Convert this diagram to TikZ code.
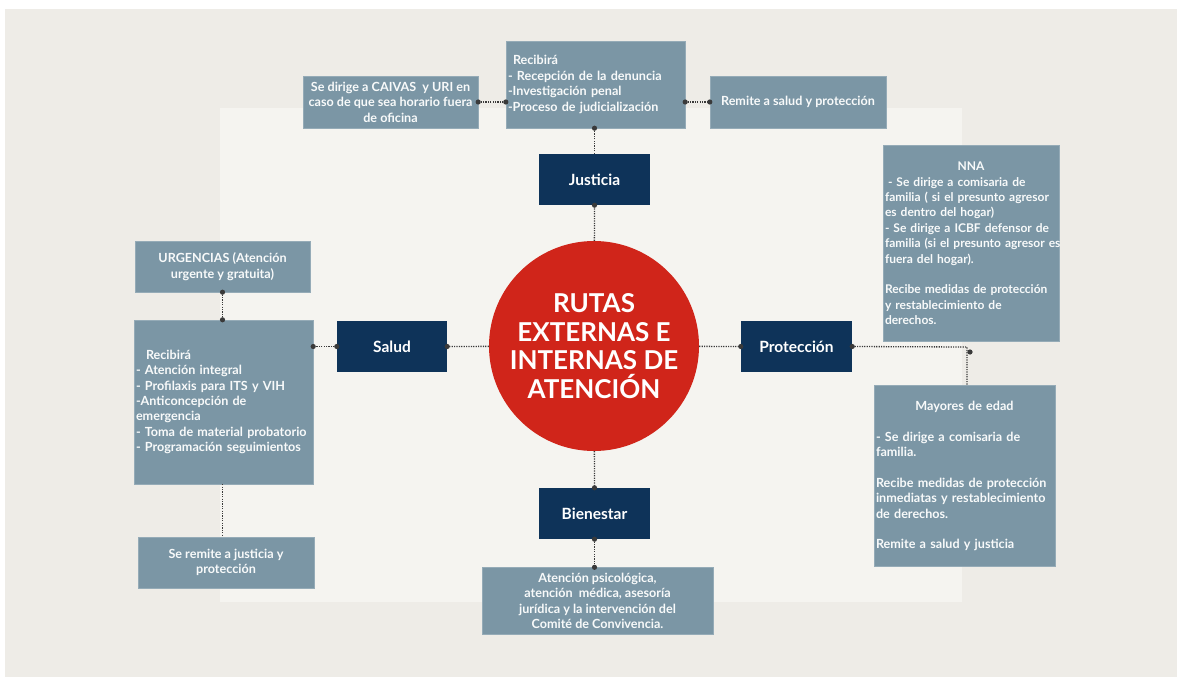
\documentclass[tikz,border=0pt]{standalone}
\usepackage{fontspec}
\setmainfont{Lato}
\usetikzlibrary{positioning}
\definecolor{fondo}{HTML}{EEECE7}
\definecolor{fondoint}{HTML}{F5F4F0}
\definecolor{gris}{HTML}{7B96A5}
\definecolor{azul}{HTML}{0E3359}
\definecolor{rojo}{HTML}{D0251A}
\definecolor{linea}{HTML}{3A3A3A}
\newcommand\titulo[1]{\makebox[\linewidth][c]{#1}}
\tikzset{
  infobox/.style={fill=gris, draw=gris!80!white, text=white!95!gris, inner sep=2pt,
    font=\bfseries\fontsize{12.6}{15.4}\selectfont},
  areabox/.style={fill=azul, text=white, minimum width=111pt, minimum height=51pt,
    font=\bfseries\fontsize{15.5}{18}\selectfont},
  enlace/.style={line width=1.3pt, dash pattern=on 1.2pt off 1.2pt, color=linea},
}
\begin{document}
\begin{tikzpicture}[x=1pt, y=-1pt]
\useasboundingbox (0,0) rectangle (1177,677);
\fill[white] (0,0) rectangle (1177,677);
\fill[fondo] (5,9) rectangle (1177,677);
\fill[fondoint] (220,108) rectangle (962,602);

% centro y areas
\node (centro) at (594,346)[circle, fill=rojo, minimum size=210pt, text=white, align=center,
  font=\bfseries\fontsize{26}{28.5}\selectfont]{RUTAS\\EXTERNAS E\\INTERNAS DE\\ATENCIÓN};
\node (justicia) at (594.5,179.5)[areabox]{Justicia};
\node (salud) at (392,346.5)[areabox, minimum width=110pt]{Salud};
\node (prot) at (796.5,346.5)[areabox]{Protección};
\node (bien) at (594.5,513.5)[areabox]{Bienestar};

% justicia
\node (jrec) at (595.5,84.5)[infobox, minimum height=87pt, text width=175pt, align=left]
  {\hspace*{5pt}Recibirá\\- Recepción de la denuncia\\-Investigación penal\\-Proceso de judicialización};
\node (caivas) at (390.5,102)[infobox, minimum width=175pt, minimum height=52pt, align=center]
  {Se dirige a CAIVAS\ \ y URI en\\caso de que sea horario fuera\\de oficina};
\node (remite) at (798,102)[infobox, minimum width=176pt, minimum height=52pt, align=center]
  {Remite a salud y protección};

% salud
\node (urg) at (222.5,266.5)[infobox, minimum width=175pt, minimum height=51pt, align=center]
  {URGENCIAS (Atención\\urgente y gratuita)};
\node (srec) at (223.5,402)[infobox, minimum height=164pt, text width=175pt, align=left]
  {\hspace*{10pt}Recibirá\\- Atención integral\\- Profilaxis para ITS y VIH\\-Anticoncepción de\\emergencia\\- Toma de material probatorio\\- Programación seguimientos};
\node (sremite) at (226,562.5)[infobox, minimum width=176pt, minimum height=51pt, align=center]
  {Se remite a justicia y\\protección};

% proteccion
\node (nna) at (971,243.5)[infobox, minimum height=196pt, text width=172pt, align=left,
  font=\bfseries\fontsize{12}{15.4}\selectfont]
  {\titulo{NNA}\\\hspace*{3pt}- Se dirige a comisaria de\\\mbox{familia ( si el presunto agresor}\\es dentro del hogar)\\\mbox{- Se dirige a ICBF defensor de}\\\mbox{familia (si el presunto agresor es}\\fuera del hogar).\\[15.4pt]\mbox{Recibe medidas de protección}\\y restablecimiento de\\derechos.};
\node (mayores) at (964.5,476)[infobox, minimum height=181pt, text width=177pt, align=left]
  {\titulo{Mayores de edad}\\[15.4pt]- Se dirige a comisaria de\\familia.\\[15.4pt]Recibe medidas de protección\\inmediatas y restablecimiento\\de derechos.\\[15.4pt]Remite a salud y justicia};

% bienestar
\node (bapoyo) at (597.5,601)[infobox, minimum width=231pt, minimum height=67pt, align=center]
  {Atención psicológica,\\atención\ \ médica, asesoría\\jurídica y la intervención del\\Comité de Convivencia.};

% conectores
\coordinate (giro) at (967,347);
\draw[enlace] (centro) -- (justicia.south);
\draw[enlace] (justicia.north) -- (justicia.north |- jrec.south) coordinate (jbaja);
\draw[enlace] (jrec.west |- caivas.east) coordinate (jizq) -- (caivas.east);
\draw[enlace] (jrec.east |- remite.west) coordinate (jder) -- (remite.west);
\draw[enlace] (centro) -- (salud.east);
\draw[enlace] (salud.west) -- (salud.west -| srec.east) coordinate (sder);
\draw[enlace] (urg.south) -- (urg.south |- srec.north) coordinate (sarr);
\draw[enlace] (srec.south -| urg.south) -- (sremite.north -| urg.south);
\draw[enlace] (centro) -- (prot.west);
\draw[enlace] (prot.east) -- (giro) -- (giro |- mayores.north);
\draw[enlace] (centro) -- (bien.north);
\draw[enlace] (bien.south) -- (bien.south |- bapoyo.north) coordinate (bbaja);
\foreach \p in {jbaja, justicia.south, jizq, caivas.east, jder, remite.west, sarr, urg.south,
  sder, salud.west, salud.east, prot.west, prot.east, bien.north, bien.south, bbaja}
  \fill[linea] (\p) circle (2.6);
\fill[linea] (970,352) circle (2.6);
\end{tikzpicture}
\end{document}
